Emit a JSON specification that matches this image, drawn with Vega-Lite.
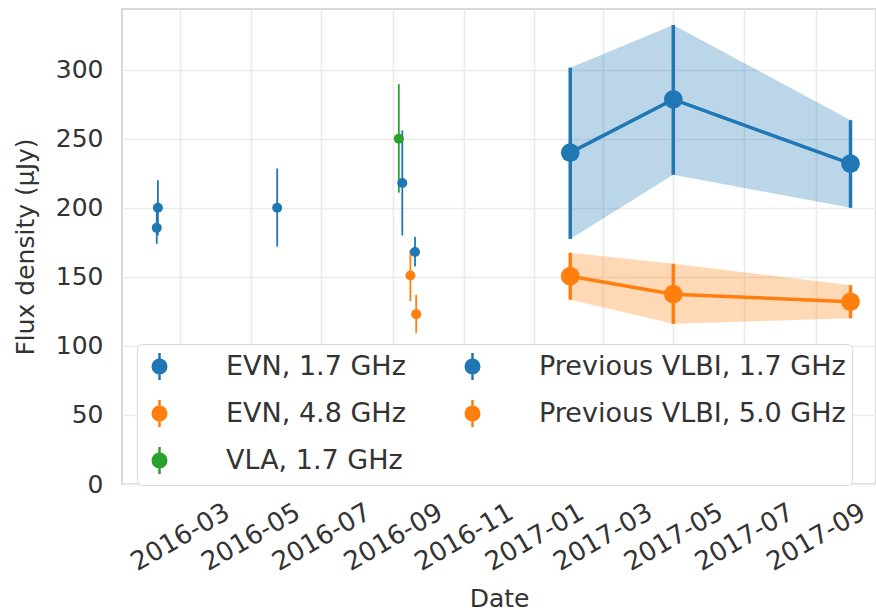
{
  "$schema": "https://vega.github.io/schema/vega-lite/v6.json",
  "autosize": {"type": "none"},
  "padding": {"left": 122, "top": 9, "right": 0, "bottom": 127},
  "width": 754,
  "height": 475,
  "background": "white",
  "config": {
    "view": {"stroke": "#d9d9d9", "strokeWidth": 2},
    "axis": {
      "labelFont": "DejaVu Sans",
      "titleFont": "DejaVu Sans",
      "labelFontSize": 25,
      "titleFontSize": 25,
      "titleFontWeight": "normal",
      "labelColor": "#333333",
      "titleColor": "#333333",
      "ticks": false,
      "tickSize": 0,
      "domain": false,
      "gridColor": "#ebebeb",
      "gridWidth": 1.7
    }
  },
  "data": {
    "values": [
      {"series": "EVN, 1.7 GHz", "date": "2017-02-01", "flux": 240, "low": 177.5, "high": 301.5},
      {"series": "EVN, 1.7 GHz", "date": "2017-05-01", "flux": 278.5, "low": 224, "high": 332.5},
      {"series": "EVN, 1.7 GHz", "date": "2017-10-01", "flux": 232, "low": 200, "high": 263.5},
      {"series": "EVN, 4.8 GHz", "date": "2017-02-01", "flux": 150.5, "low": 133.5, "high": 167.5},
      {"series": "EVN, 4.8 GHz", "date": "2017-05-01", "flux": 137.5, "low": 116, "high": 159.5},
      {"series": "EVN, 4.8 GHz", "date": "2017-10-01", "flux": 132, "low": 120, "high": 144},
      {"series": "VLA, 1.7 GHz", "date": "2016-09-06", "flux": 250, "low": 211, "high": 289.5},
      {"series": "Previous VLBI, 1.7 GHz", "date": "2016-02-11", "flux": 200, "low": 180, "high": 220},
      {"series": "Previous VLBI, 1.7 GHz", "date": "2016-02-10", "flux": 185.5, "low": 174, "high": 197},
      {"series": "Previous VLBI, 1.7 GHz", "date": "2016-05-24", "flux": 200, "low": 172, "high": 228.5},
      {"series": "Previous VLBI, 1.7 GHz", "date": "2016-09-09", "flux": 218, "low": 180, "high": 256},
      {"series": "Previous VLBI, 1.7 GHz", "date": "2016-09-20", "flux": 168, "low": 157.5, "high": 179},
      {"series": "Previous VLBI, 5.0 GHz", "date": "2016-09-16", "flux": 151, "low": 132.5, "high": 169.5},
      {"series": "Previous VLBI, 5.0 GHz", "date": "2016-09-21", "flux": 123, "low": 109.5, "high": 137}
    ]
  },
  "encoding": {
    "x": {
      "field": "date",
      "type": "temporal",
      "title": "Date",
      "scale": {
        "type": "utc",
        "domain": [
          {"year": 2016, "month": 1, "date": 11, "utc": true},
          {"year": 2017, "month": 10, "date": 23, "utc": true}
        ]
      },
      "axis": {
        "values": [
          {"year": 2016, "month": 3, "date": 1, "utc": true},
          {"year": 2016, "month": 5, "date": 1, "utc": true},
          {"year": 2016, "month": 7, "date": 1, "utc": true},
          {"year": 2016, "month": 9, "date": 1, "utc": true},
          {"year": 2016, "month": 11, "date": 1, "utc": true},
          {"year": 2017, "month": 1, "date": 1, "utc": true},
          {"year": 2017, "month": 3, "date": 1, "utc": true},
          {"year": 2017, "month": 5, "date": 1, "utc": true},
          {"year": 2017, "month": 7, "date": 1, "utc": true},
          {"year": 2017, "month": 9, "date": 1, "utc": true}
        ],
        "format": "%Y-%m",
        "labelFontSize": 26,
        "labelAngle": -30,
        "labelAlign": "center",
        "labelBaseline": "middle",
        "labelPadding": 53,
        "labelDx": 4,
        "labelOverlap": false,
        "labelFlush": false,
        "titleY": 122,
        "titleBaseline": "alphabetic"
      }
    }
  },
  "layer": [
    {
      "transform": [{"filter": "indexof(datum.series, 'EVN') === 0"}],
      "mark": {"type": "area", "opacity": 0.3},
      "encoding": {
        "y": {
          "field": "low",
          "type": "quantitative",
          "title": "Flux density (μJy)",
          "scale": {"domain": [0, 344], "nice": false, "zero": false},
          "axis": {
            "values": [0, 50, 100, 150, 200, 250, 300],
            "labelPadding": 19,
            "titleX": -89,
            "titleY": 237.5,
            "titleAngle": -90,
            "titleAlign": "center",
            "titleBaseline": "alphabetic"
          }
        },
        "y2": {"field": "high"},
        "fill": {
          "field": "series",
          "type": "nominal",
          "legend": null,
          "scale": {
            "domain": ["EVN, 1.7 GHz", "EVN, 4.8 GHz"],
            "range": ["#1f77b4", "#ff7f0e"]
          }
        }
      }
    },
    {
      "transform": [{"filter": "indexof(datum.series, 'EVN') !== 0"}],
      "mark": {"type": "rule", "strokeWidth": 1.8},
      "encoding": {
        "y": {"field": "low", "type": "quantitative", "title": "Flux density (μJy)"},
        "y2": {"field": "high"},
        "stroke": {
          "field": "series",
          "type": "nominal",
          "scale": {
            "domain": ["EVN, 1.7 GHz", "EVN, 4.8 GHz", "VLA, 1.7 GHz", "Previous VLBI, 1.7 GHz", "Previous VLBI, 5.0 GHz"],
            "range": ["#1f77b4", "#ff7f0e", "#2ca02c", "#1f77b4", "#ff7f0e"]
          },
          "legend": {
            "title": null,
            "orient": "none",
            "legendX": 15,
            "legendY": 335,
            "columns": 2,
            "symbolSize": 900,
            "symbolStrokeWidth": 2.5,
            "symbolType": "M0,-0.9V0.9M-0.45,0A0.45,0.45,0,1,0,0.45,0A0.45,0.45,0,1,0,-0.45,0Z",
            "symbolOpacity": 1,
            "labelFont": "DejaVu Sans",
            "labelFontSize": 27,
            "labelColor": "#333333",
            "labelLimit": 500,
            "labelOffset": 50,
            "rowPadding": 10,
            "columnPadding": 50,
            "padding": 6,
            "fillColor": "white",
            "strokeColor": "#d9d9d9",
            "cornerRadius": 5
          }
        }
      }
    },
    {
      "transform": [{"filter": "indexof(datum.series, 'EVN') === 0"}],
      "mark": {"type": "rule", "strokeWidth": 3.5},
      "encoding": {
        "y": {"field": "low", "type": "quantitative", "title": "Flux density (μJy)"},
        "y2": {"field": "high"},
        "stroke": {
          "field": "series",
          "type": "nominal",
          "legend": {
            "title": null,
            "orient": "none",
            "legendX": 15,
            "legendY": 335,
            "columns": 2,
            "symbolSize": 900,
            "symbolStrokeWidth": 2.5,
            "symbolType": "M0,-0.9V0.9M-0.45,0A0.45,0.45,0,1,0,0.45,0A0.45,0.45,0,1,0,-0.45,0Z",
            "symbolOpacity": 1,
            "labelFont": "DejaVu Sans",
            "labelFontSize": 27,
            "labelColor": "#333333",
            "labelLimit": 500,
            "labelOffset": 50,
            "rowPadding": 10,
            "columnPadding": 50,
            "padding": 6,
            "fillColor": "white",
            "strokeColor": "#d9d9d9",
            "cornerRadius": 5
          }
        }
      }
    },
    {
      "transform": [{"filter": "indexof(datum.series, 'EVN') === 0"}],
      "mark": {"type": "line", "strokeWidth": 3.5},
      "encoding": {
        "y": {"field": "flux", "type": "quantitative", "title": "Flux density (μJy)"},
        "stroke": {
          "field": "series",
          "type": "nominal",
          "legend": {
            "title": null,
            "orient": "none",
            "legendX": 15,
            "legendY": 335,
            "columns": 2,
            "symbolSize": 900,
            "symbolStrokeWidth": 2.5,
            "symbolType": "M0,-0.9V0.9M-0.45,0A0.45,0.45,0,1,0,0.45,0A0.45,0.45,0,1,0,-0.45,0Z",
            "symbolOpacity": 1,
            "labelFont": "DejaVu Sans",
            "labelFontSize": 27,
            "labelColor": "#333333",
            "labelLimit": 500,
            "labelOffset": 50,
            "rowPadding": 10,
            "columnPadding": 50,
            "padding": 6,
            "fillColor": "white",
            "strokeColor": "#d9d9d9",
            "cornerRadius": 5
          }
        }
      }
    },
    {
      "transform": [{"filter": "indexof(datum.series, 'EVN') !== 0"}],
      "mark": {"type": "point", "filled": true, "opacity": 1, "size": 100},
      "encoding": {
        "y": {"field": "flux", "type": "quantitative", "title": "Flux density (μJy)"},
        "color": {
          "field": "series",
          "type": "nominal",
          "scale": {
            "domain": ["EVN, 1.7 GHz", "EVN, 4.8 GHz", "VLA, 1.7 GHz", "Previous VLBI, 1.7 GHz", "Previous VLBI, 5.0 GHz"],
            "range": ["#1f77b4", "#ff7f0e", "#2ca02c", "#1f77b4", "#ff7f0e"]
          },
          "legend": {
            "title": null,
            "orient": "none",
            "legendX": 15,
            "legendY": 335,
            "columns": 2,
            "symbolSize": 900,
            "symbolStrokeWidth": 2.5,
            "symbolType": "M0,-0.9V0.9M-0.45,0A0.45,0.45,0,1,0,0.45,0A0.45,0.45,0,1,0,-0.45,0Z",
            "symbolOpacity": 1,
            "labelFont": "DejaVu Sans",
            "labelFontSize": 27,
            "labelColor": "#333333",
            "labelLimit": 500,
            "labelOffset": 50,
            "rowPadding": 10,
            "columnPadding": 50,
            "padding": 6,
            "fillColor": "white",
            "strokeColor": "#d9d9d9",
            "cornerRadius": 5
          }
        }
      }
    },
    {
      "transform": [{"filter": "indexof(datum.series, 'EVN') === 0"}],
      "mark": {"type": "point", "filled": true, "opacity": 1, "size": 350},
      "encoding": {
        "y": {"field": "flux", "type": "quantitative", "title": "Flux density (μJy)"},
        "color": {"field": "series", "type": "nominal"}
      }
    }
  ]
}
